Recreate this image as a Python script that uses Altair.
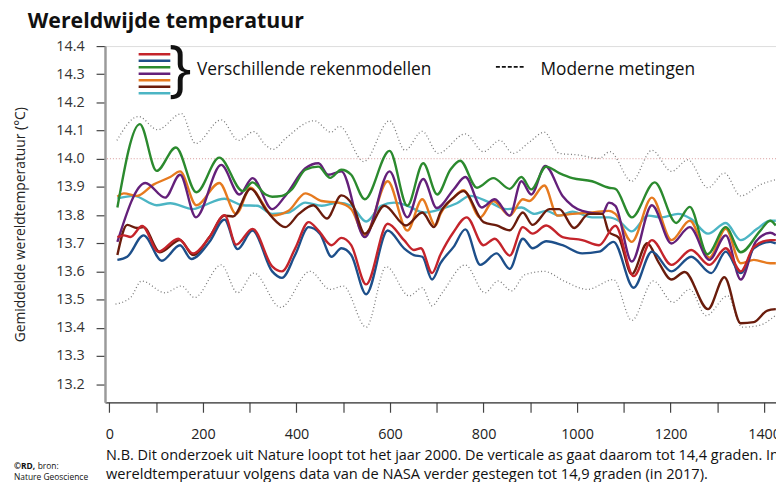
import altair as alt
import pandas as pd

# ---------------- data ----------------
years_red = [17, 31, 45, 70, 105, 147, 179, 214, 246, 271, 306, 348, 369, 397, 426, 447, 475, 496, 517, 549, 595, 630, 651, 666, 690, 708, 736, 764, 800, 824, 856, 884, 905, 934, 969, 1011, 1047, 1082, 1121, 1160, 1202, 1244, 1283, 1318, 1350, 1378, 1413, 1425]
temp_red = [13.722, 13.728, 13.722, 13.761, 13.670, 13.716, 13.664, 13.722, 13.800, 13.695, 13.751, 13.618, 13.600, 13.681, 13.775, 13.745, 13.693, 13.719, 13.693, 13.554, 13.769, 13.711, 13.676, 13.682, 13.594, 13.660, 13.740, 13.792, 13.693, 13.716, 13.656, 13.757, 13.734, 13.763, 13.722, 13.711, 13.693, 13.762, 13.583, 13.711, 13.623, 13.676, 13.623, 13.682, 13.600, 13.687, 13.711, 13.711]

years_blue = [17, 38, 73, 112, 151, 175, 214, 246, 274, 306, 348, 369, 397, 426, 450, 475, 496, 517, 549, 595, 630, 651, 669, 690, 708, 736, 761, 793, 828, 856, 884, 905, 934, 969, 1011, 1047, 1078, 1121, 1160, 1202, 1244, 1287, 1318, 1350, 1378, 1413, 1425]
temp_blue = [13.641, 13.652, 13.728, 13.638, 13.693, 13.644, 13.705, 13.784, 13.679, 13.745, 13.600, 13.577, 13.658, 13.757, 13.734, 13.652, 13.682, 13.658, 13.519, 13.745, 13.682, 13.658, 13.652, 13.571, 13.629, 13.687, 13.749, 13.623, 13.664, 13.609, 13.716, 13.682, 13.707, 13.693, 13.664, 13.670, 13.705, 13.542, 13.670, 13.600, 13.652, 13.594, 13.670, 13.594, 13.682, 13.705, 13.699]

years_green = [17, 65, 101, 142, 186, 235, 285, 306, 334, 348, 369, 390, 419, 447, 472, 496, 517, 546, 599, 637, 671, 701, 729, 750, 786, 821, 856, 881, 902, 934, 962, 990, 1032, 1068, 1082, 1117, 1166, 1212, 1241, 1279, 1318, 1350, 1392, 1413, 1425]
temp_green = [13.827, 14.123, 13.957, 14.040, 13.881, 14.004, 13.885, 13.916, 13.873, 13.865, 13.868, 13.891, 13.961, 13.972, 13.932, 13.961, 13.943, 13.856, 14.028, 13.833, 13.984, 13.873, 13.961, 13.993, 13.897, 13.931, 13.893, 13.935, 13.891, 13.972, 13.949, 13.931, 13.920, 13.897, 13.893, 13.792, 13.916, 13.772, 13.829, 13.661, 13.757, 13.668, 13.745, 13.780, 13.763]

years_purple = [17, 77, 119, 151, 185, 239, 278, 306, 348, 376, 419, 447, 468, 496, 546, 599, 637, 671, 700, 736, 761, 796, 824, 856, 881, 902, 932, 969, 1011, 1054, 1068, 1082, 1117, 1160, 1202, 1241, 1283, 1318, 1350, 1382, 1413, 1425]
temp_purple = [13.705, 13.914, 13.862, 13.943, 13.792, 13.978, 13.873, 13.931, 13.821, 13.868, 13.966, 13.984, 13.943, 13.955, 13.722, 13.955, 13.792, 13.928, 13.825, 13.891, 13.935, 13.827, 13.856, 13.798, 13.920, 13.873, 13.974, 13.868, 13.815, 13.804, 13.844, 13.833, 13.635, 13.835, 13.699, 13.757, 13.641, 13.728, 13.571, 13.705, 13.737, 13.728]

years_orange = [17, 31, 59, 94, 130, 151, 186, 235, 271, 302, 327, 348, 383, 419, 454, 489, 517, 546, 595, 637, 669, 697, 708, 736, 757, 793, 821, 856, 884, 898, 930, 958, 990, 1032, 1068, 1082, 1117, 1160, 1202, 1241, 1283, 1318, 1350, 1378, 1413, 1425]
temp_orange = [13.865, 13.877, 13.868, 13.908, 13.935, 13.955, 13.835, 13.914, 13.804, 13.897, 13.844, 13.798, 13.815, 13.877, 13.850, 13.844, 13.821, 13.728, 13.920, 13.745, 13.856, 13.763, 13.804, 13.862, 13.888, 13.792, 13.850, 13.798, 13.856, 13.850, 13.905, 13.798, 13.804, 13.809, 13.815, 13.804, 13.705, 13.862, 13.711, 13.780, 13.649, 13.751, 13.629, 13.641, 13.629, 13.629]

years_teal = [17, 52, 101, 130, 179, 200, 246, 285, 316, 348, 383, 419, 454, 489, 517, 549, 581, 609, 637, 673, 708, 743, 771, 814, 849, 881, 909, 934, 962, 990, 1032, 1068, 1089, 1117, 1152, 1181, 1216, 1244, 1280, 1318, 1350, 1385, 1413, 1425]
temp_teal = [13.859, 13.868, 13.835, 13.842, 13.821, 13.833, 13.858, 13.835, 13.833, 13.804, 13.809, 13.844, 13.833, 13.844, 13.833, 13.777, 13.833, 13.844, 13.833, 13.809, 13.821, 13.842, 13.868, 13.844, 13.821, 13.827, 13.804, 13.815, 13.798, 13.812, 13.792, 13.792, 13.780, 13.742, 13.798, 13.792, 13.804, 13.786, 13.734, 13.772, 13.711, 13.751, 13.780, 13.780]

years_brown = [17, 38, 59, 73, 108, 151, 179, 214, 246, 264, 302, 334, 348, 376, 405, 436, 465, 496, 521, 546, 588, 634, 669, 694, 708, 736, 757, 800, 828, 856, 884, 905, 941, 962, 994, 1025, 1054, 1068, 1089, 1117, 1150, 1175, 1202, 1230, 1280, 1315, 1350, 1378, 1407, 1425]
temp_brown = [13.658, 13.765, 13.754, 13.757, 13.668, 13.711, 13.658, 13.722, 13.798, 13.795, 13.893, 13.821, 13.792, 13.757, 13.804, 13.835, 13.788, 13.870, 13.833, 13.734, 13.833, 13.763, 13.809, 13.757, 13.810, 13.862, 13.885, 13.775, 13.763, 13.746, 13.809, 13.765, 13.821, 13.821, 13.754, 13.804, 13.804, 13.740, 13.720, 13.590, 13.700, 13.630, 13.571, 13.598, 13.466, 13.579, 13.416, 13.420, 13.461, 13.466]

years_upper = [16, 62, 103, 154, 184, 239, 276, 309, 334, 350, 376, 438, 474, 492, 544, 599, 632, 669, 703, 761, 800, 835, 863, 898, 930, 962, 1004, 1047, 1070, 1117, 1160, 1202, 1237, 1280, 1315, 1350, 1392, 1425]
temp_upper = [14.065, 14.150, 14.103, 14.160, 14.054, 14.138, 14.065, 14.096, 14.048, 14.033, 14.071, 14.135, 14.094, 14.115, 13.990, 14.135, 14.030, 14.097, 14.019, 14.088, 14.025, 14.065, 14.019, 14.059, 14.094, 14.019, 14.013, 14.001, 14.025, 13.920, 14.030, 13.955, 13.996, 13.897, 13.949, 13.868, 13.908, 13.926]

years_lower = [13, 45, 69, 119, 154, 182, 239, 274, 309, 366, 429, 472, 500, 549, 592, 641, 669, 690, 710, 761, 803, 831, 860, 888, 930, 972, 1022, 1078, 1117, 1163, 1205, 1241, 1276, 1322, 1353, 1389, 1424]
temp_lower = [13.484, 13.507, 13.566, 13.524, 13.548, 13.507, 13.623, 13.524, 13.594, 13.472, 13.600, 13.536, 13.548, 13.402, 13.617, 13.513, 13.542, 13.478, 13.520, 13.623, 13.524, 13.566, 13.531, 13.588, 13.600, 13.566, 13.536, 13.571, 13.426, 13.566, 13.490, 13.536, 13.443, 13.513, 13.402, 13.408, 13.443]

reference_level = [14.0]
x_ticks = [0, 100, 200, 300, 400, 500, 600, 700, 800, 900, 1000, 1100, 1200, 1300, 1400]
y_ticks = [13.2, 13.3, 13.4, 13.5, 13.6, 13.7, 13.8, 13.9, 14.0, 14.1, 14.2, 14.3, 14.4]

# model series: name, years, temps, colour (legend order top to bottom)
models = [
    ("rood", years_red, temp_red, "#c4242b"),
    ("blauw", years_blue, temp_blue, "#1d4f8a"),
    ("groen", years_green, temp_green, "#2b8a2e"),
    ("paars", years_purple, temp_purple, "#64207a"),
    ("oranje", years_orange, temp_orange, "#e67a1f"),
    ("bruin", years_brown, temp_brown, "#6a1c0c"),
    ("turkoois", years_teal, temp_teal, "#4cb5c4"),
]
draw_order = ["turkoois", "oranje", "paars", "groen", "bruin", "blauw", "rood"]

FONT = "Open Sans"

x_scale = alt.Scale(domain=[-9.5, 1425.4], nice=False, zero=False)
y_scale = alt.Scale(domain=[13.135, 14.4], nice=False, zero=False)

x_axis = alt.Axis(values=x_ticks, labelExpr="datum.value % 200 === 0 ? datum.value : ''",
                  grid=False, title=None, domainColor="#333", domainWidth=1.3,
                  tickColor="#444", tickWidth=1.2, tickSize=10, labelFontSize=14.5,
                  labelFont=FONT, labelColor="#222", labelPadding=16, labelFlush=False,
                  labelOverlap=False)
y_axis = alt.Axis(values=y_ticks, labelExpr="format(datum.value, '.1f')", grid=False,
                  title="Gemiddelde wereldtemperatuur (°C)", titleFont=FONT,
                  titleFontSize=14, titleFontWeight="normal", titleColor="#222",
                  titlePadding=29, domainColor="#9a9a9a", domainWidth=2.5,
                  tickColor="#444", tickWidth=1.2, tickSize=9, labelFontSize=14.5,
                  labelFont=FONT, labelColor="#333", labelPadding=12,
                  labelOverlap=False, labelFlush=False, labelBound=False)

X = lambda f: alt.X(f, scale=x_scale, axis=x_axis)
Y = lambda f: alt.Y(f, scale=y_scale, axis=y_axis)

layers = []

# bounds (dotted grey)
bounds = pd.concat([
    pd.DataFrame({"year": years_upper, "temp": temp_upper, "b": "boven"}),
    pd.DataFrame({"year": years_lower, "temp": temp_lower, "b": "onder"}),
])
layers.append(
    alt.Chart(bounds).mark_line(interpolate="monotone", color="#7a7a7a", strokeWidth=1.3,
                                strokeDash=[1, 2.5], clip=True)
    .encode(x=X("year:Q"), y=Y("temp:Q"), detail="b:N")
)

# 14.0 reference line
layers.append(
    alt.Chart(pd.DataFrame({"level": reference_level})).mark_rule(
        color="#d99a9a", strokeWidth=1, strokeDash=[1, 2])
    .encode(y=Y("level:Q"))
)

model_lookup = {m[0]: m for m in models}
for name in draw_order:
    _, yrs, tmp, col = model_lookup[name]
    df = pd.DataFrame({"year": yrs, "temp": tmp})
    layers.append(
        alt.Chart(df).mark_line(interpolate="monotone", color=col, strokeWidth=2.4, clip=True)
        .encode(x=X("year:Q"), y=Y("temp:Q"))
    )

# ---------------- annotations ----------------
def text(t, x, y, size, weight="normal", align="left", baseline="middle", color="#111"):
    return alt.Chart(pd.DataFrame({"t": [t]})).mark_text(
        font=FONT, fontSize=size, fontWeight=weight, align=align, baseline=baseline,
        color=color).encode(text="t:N", x=alt.value(x), y=alt.value(y))

layers.append(text("Wereldwijde temperatuur", -78, -18, 21.5, weight="bold", baseline="alphabetic"))

# legend swatches
for i, (name, _, _, col) in enumerate(models):
    layers.append(
        alt.Chart(pd.DataFrame({"s": [name]})).mark_rule(color=col, strokeWidth=2.6)
        .encode(x=alt.value(34), x2=alt.value(66), y=alt.value(8.3 + i * 6.57))
    )
layers.append(text("}", 76, 25, 62, weight="normal", align="center"))
layers.append(text("Verschillende rekenmodellen", 93, 24, 17.5))
layers.append(
    alt.Chart(pd.DataFrame({"s": ["metingen"]})).mark_rule(color="#111", strokeWidth=1.8,
                                                           strokeDash=[4, 2])
    .encode(x=alt.value(395), x2=alt.value(425), y=alt.value(21))
)
layers.append(text("Moderne metingen", 440, 24, 17.5))

# footer
layers.append(text("N.B. Dit onderzoek uit Nature loopt tot het jaar 2000. De verticale as gaat daarom tot 14,4 graden. Inmiddels is de gemiddelde",
                   1, 414, 14.6))
layers.append(text("wereldtemperatuur volgens data van de NASA verder gestegen tot 14,9 graden (in 2017).",
                   1, 433, 14.8))
layers.append(text("©RD,", -92, 424, 8.5, weight="bold"))
layers.append(text("bron:", -68, 424, 8.5))
layers.append(text("Nature Geoscience", -92, 435, 8.5))

chart = alt.layer(*layers).properties(
    width=678, height=360,
    autosize=alt.AutoSizeParams(type="none"),
    padding={"left": 98, "top": 36, "right": 0, "bottom": 78},
).configure_view(strokeWidth=0).configure(background="white")

chart.save("out.html", embed_options={"renderer": "svg", "actions": False})
